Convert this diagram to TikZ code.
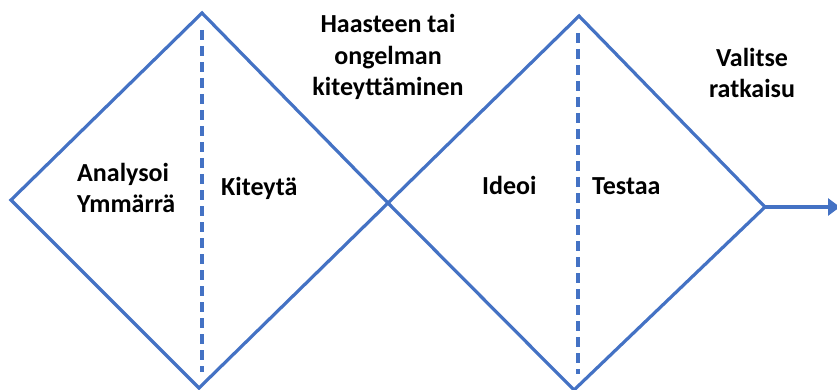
\documentclass[tikz,border=0pt]{standalone}
\usepackage{fontspec}
\setmainfont{Carlito}
\usetikzlibrary{arrows.meta}
\definecolor{lineblue}{HTML}{4472C4}
\begin{document}
\begin{tikzpicture}[x=1pt,y=-1pt,
  edge/.style={draw=lineblue,line width=3.2pt,line join=miter},
  divider/.style={draw=lineblue,line width=3.2pt,dash pattern=on 10pt off 6pt},
  label/.style={font=\bfseries\fontsize{26}{31.5}\selectfont,inner sep=0pt,text=black}]
\useasboundingbox (0,0) rectangle (837,390);
% first diamond
\coordinate (aL) at (11,200);
\coordinate (aT) at (202,13);
\coordinate (mid) at (388,203);
\coordinate (aB) at (199,388);
% second diamond
\coordinate (bT) at (579,16);
\coordinate (bR) at (765,207);
\coordinate (bB) at (574,390);
\coordinate (out) at (840,207);
% dashed dividers
\coordinate (d1t) at (202,30);
\coordinate (d1b) at (202,372);
\coordinate (d2t) at (578,33);
\coordinate (d2b) at (578,374);

\draw[edge] (aL) -- (aT) -- (mid) -- (aB) -- cycle;
\draw[edge] (mid) -- (bT) -- (bR) -- (bB) -- cycle;
\draw[divider] (d1t) -- (d1b);
\draw[divider] (d2t) -- (d2b);
\draw[edge,-{Triangle[length=12pt,width=17pt]}] (bR) -- (out);

\node[label,anchor=base west] (kit) at (221,195) {Kiteytä};
\node[label,anchor=base west] (ide) at (482,194) {Ideoi};
\node[label,anchor=base west] (tes) at (592,194) {Testaa};
\node[label,align=left,anchor=west] (ana) at (77,188) {Analysoi\\Ymmärrä};
\node[label,align=center] (haa) at (388,57) {Haasteen tai\\ongelman\\kiteyttäminen};
\node[label,align=center] (val) at (752,73) {Valitse\\ratkaisu};
\end{tikzpicture}
\end{document}
